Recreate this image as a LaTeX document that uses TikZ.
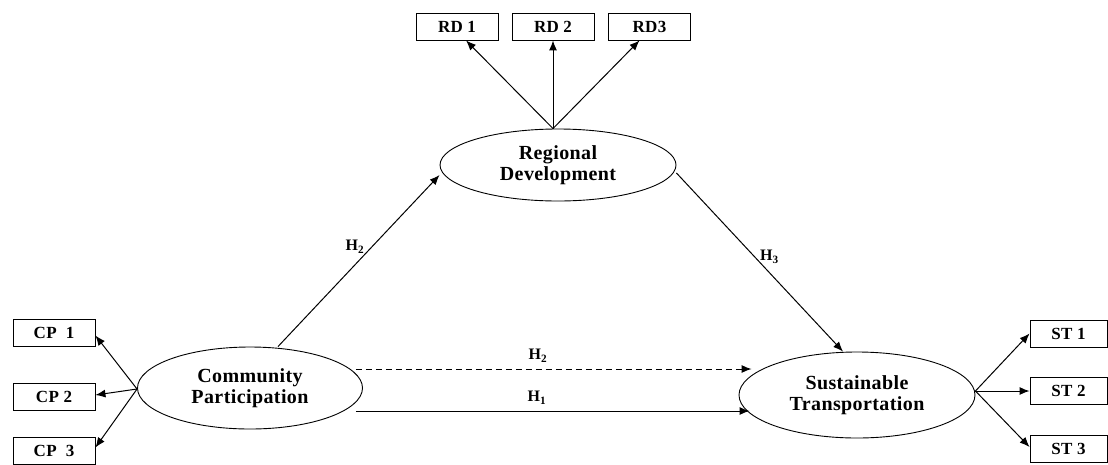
\documentclass[tikz,border=0pt]{standalone}
\usepackage{fontspec}
\setmainfont{Liberation Serif}
\usetikzlibrary{shapes.geometric,arrows.meta}
\begin{document}
\begin{tikzpicture}[x=1pt,y=-1pt,
  latent/.style={draw, ellipse, line width=0.9pt, inner sep=0pt, align=center,
    font=\fontsize{20}{21}\selectfont\bfseries\addfontfeature{LetterSpace=2}},
  ind/.style={draw, rectangle, line width=0.9pt, inner sep=0pt, minimum width=82pt,
    minimum height=27pt, font=\fontsize{17}{18}\selectfont\bfseries\addfontfeature{LetterSpace=2}},
  arr/.style={-{Latex[length=10pt,width=8pt]}, line width=1pt},
  lab/.style={font=\fontsize{16}{17}\selectfont\bfseries, inner sep=0pt}]
\useasboundingbox (0,0) rectangle (1108,464);
% latent variables
\node[latent, minimum width=225pt, minimum height=82pt] (cp) at (250,388) {Community\\Participation};
\node[latent, minimum width=236pt, minimum height=72pt] (rd) at (558,165) {Regional\\Development};
\node[latent, minimum width=236pt, minimum height=86pt] (st) at (857,395) {Sustainable\\Transportation};
% indicators
\node[ind] (cp1) at (54,332.5) {CP\ \ 1};
\node[ind] (cp2) at (54,397) {CP 2};
\node[ind] (cp3) at (54,450.5) {CP\ \ 3};
\node[ind] (rd1) at (457,26.5) {RD 1};
\node[ind] (rd2) at (553,26.5) {RD 2};
\node[ind] (rd3) at (649.5,26.5) {RD3};
\node[ind, minimum width=77pt] (st1) at (1068.5,333.5) {ST 1};
\node[ind, minimum width=77pt] (st2) at (1068.5,390.5) {ST 2};
\node[ind, minimum width=77pt] (st3) at (1068.5,449) {ST 3};
% measurement arrows
\draw[arr] ([yshift=-1pt]cp.west) -- ([yshift=-3pt]cp1.east);
\draw[arr] ([yshift=-1pt]cp.west) -- ([yshift=2pt]cp2.east);
\draw[arr] ([yshift=-1pt]cp.west) -- ([yshift=3pt]cp3.east);
\draw[arr] ([xshift=-5pt]rd.north) -- ([xshift=9pt]rd1.south);
\draw[arr] ([xshift=-5pt]rd.north) -- (rd2.south);
\draw[arr] ([xshift=-5pt]rd.north) -- ([xshift=-10pt]rd3.south);
\draw[arr] ([yshift=4pt]st.east) -- (st1.west);
\draw[arr] ([yshift=4pt]st.east) -- ([yshift=-0.5pt]st2.west);
\draw[arr] ([yshift=4pt]st.east) -- ([yshift=2pt]st3.west);
% structural paths
\draw[arr] ([xshift=28pt]cp.north) -- node[lab, pos=0.58, left=7pt] {H\textsubscript{2}} ([yshift=-10pt]rd.west);
\draw[arr] ([yshift=-8pt]rd.east) -- node[lab, pos=0.47, right=5pt] {H\textsubscript{3}} ([xshift=-14pt]st.north);
\draw[arr, dash pattern=on 6pt off 4pt] ([xshift=-7pt,yshift=19pt]cp.east) -- node[lab, pos=0.46, above=6pt] {H\textsubscript{2}} ([xshift=13pt,yshift=26pt]st.west);
\draw[arr] ([xshift=-7pt,yshift=-23pt]cp.east) -- node[lab, pos=0.46, above=6pt] {H\textsubscript{1}} ([xshift=11pt,yshift=-16pt]st.west);
\end{tikzpicture}
\end{document}
